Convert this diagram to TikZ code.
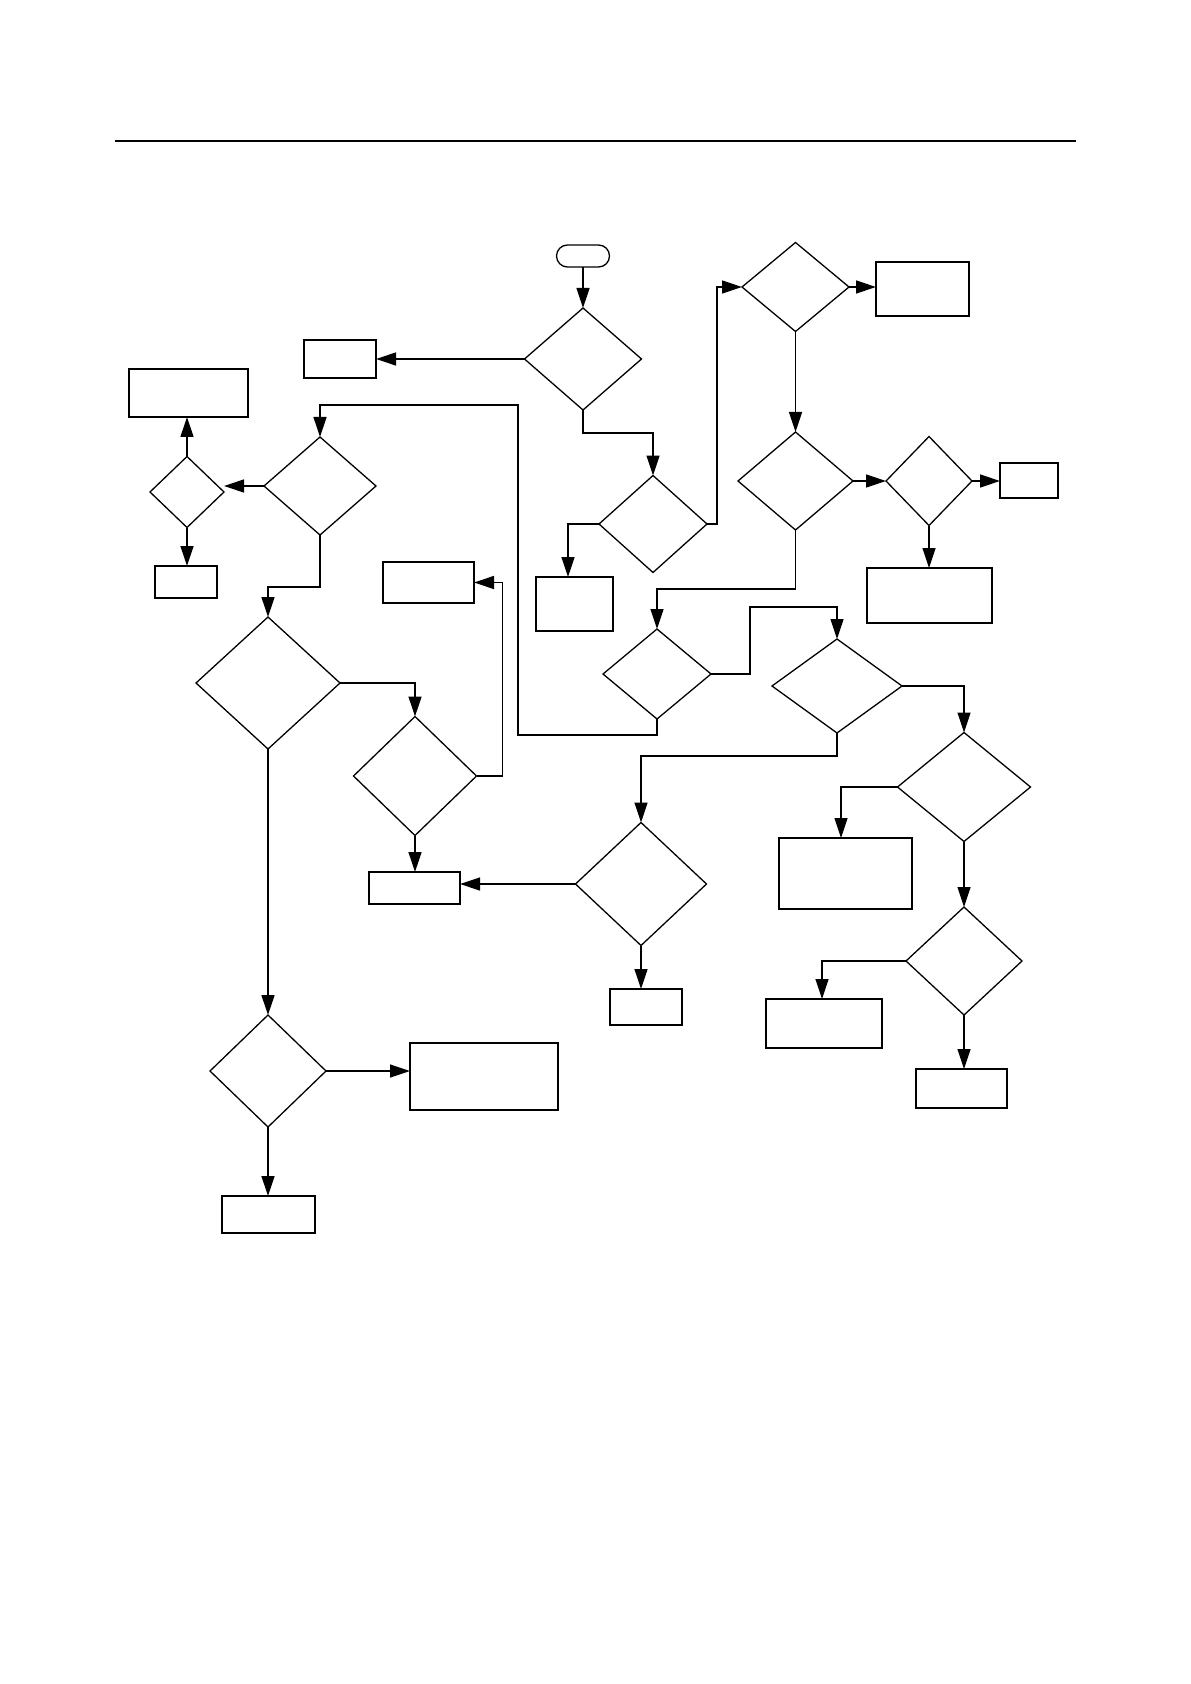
\documentclass[tikz,border=0pt]{standalone}
\usetikzlibrary{arrows.meta,shapes.geometric}
\tikzset{dec/.style 2 args={draw,diamond,inner sep=0pt,outer sep=0pt,
 minimum width=#1pt,minimum height=#2pt},
 blk/.style 2 args={draw,rectangle,inner sep=0pt,outer sep=0pt,
 minimum width=#1pt,minimum height=#2pt},
 term/.style={draw,rectangle,rounded corners=5.5pt,inner sep=0pt,outer sep=0pt,
 minimum width=26.5pt,minimum height=11pt},
 arr/.style={-{Triangle[length=10pt,width=6.5pt]}}}

\begin{document}
\begin{tikzpicture}[x=0.5pt,y=-0.5pt,line width=0.65pt]
\useasboundingbox (0,0) rectangle (1190,1684);
\draw[line width=1.3pt] (115,141) -- (1076,141);
% decisions
\node[term] (start) at (583,256) {};
\node[dec={58.5}{51}] (d1) at (583,359) {};
\node[dec={54}{48.5}] (d2) at (653,524) {};
\node[dec={53.5}{44.5}] (d3) at (795.5,287) {};
\node[dec={57.5}{49}] (d4) at (795.5,481) {};
\node[dec={43}{44.5}] (d5) at (929,481) {};
\node[dec={54}{45}] (d6) at (657,674) {};
\node[dec={65}{47}] (d7) at (837,686) {};
\node[dec={37}{35.5}] (d8) at (187,492) {};
\node[dec={56}{49}] (d9) at (320,486) {};
\node[dec={72}{66}] (d10) at (268,683) {};
\node[dec={61.5}{59.5}] (d11) at (415,776) {};
\node[dec={65.5}{61.5}] (d12) at (641,884) {};
\node[dec={58}{56}] (d13) at (268,1071) {};
\node[dec={66.5}{54.5}] (d14) at (964,787) {};
\node[dec={58}{54}] (d15) at (964,961) {};
% boxes
\node[blk={36}{19}] (b1) at (340,359) {};
\node[blk={59.5}{24}] (b2) at (188.5,393) {};
\node[blk={31}{16}] (b3) at (186,582) {};
\node[blk={45.5}{20.5}] (b4) at (428.5,582.5) {};
\node[blk={38.5}{27}] (b5) at (574.5,604) {};
\node[blk={46.5}{27}] (b6) at (922.5,289) {};
\node[blk={29}{17.5}] (b7) at (1029,480.5) {};
\node[blk={62.5}{27.5}] (b8) at (929.5,595.5) {};
\node[blk={45.5}{16}] (b9) at (414.5,888) {};
\node[blk={36}{18}] (b10) at (646,1007) {};
\node[blk={66.5}{35.5}] (b11) at (845.5,873.5) {};
\node[blk={58}{24.5}] (b12) at (824,1023.5) {};
\node[blk={45.5}{19.5}] (b13) at (961.5,1088.5) {};
\node[blk={74}{33.5}] (b14) at (484,1076.5) {};
\node[blk={46.5}{18.5}] (b15) at (268.5,1214.5) {};
% connectors
\draw[arr] (start) -- (d1);
\draw[arr] (d1.west) -- (b1.east);
\draw[arr] (d1.south) -- ++(0,23) -| (d2.north);
\draw[arr] (d2.east) -- ++(10,0) |- (d3.west);
\draw[arr] (d2.west) -| ([xshift=-3.25pt]b5.north);
\draw[arr] (d3.east) -- (d3.east -| b6.west);
\draw[arr] (d3.south) -- (d4.north);
\draw[arr] (d4.east) -- (d5.west);
\draw[arr] (d5.east) -- (d5.east -| b7.west);
\draw[arr] (d5.south) -- (d5.south |- b8.north);
\draw[arr] (d4.south) -- ++(0,59) -| (d6.north);
\draw[arr] (d6.east) -- ++(39,0) |- ([yshift=16pt]d7.north) -- (d7.north);
\draw[arr] (d6.south) -- ++(0,16) -| ++(-139,-330) -| (d9.north);
\draw[arr] (d7.south) -- ++(0,23) -| (d12.north);
\draw[arr] (d7.east) -| (d14.north);
\draw[arr] (d14.west) -| ([xshift=-2.25pt]b11.north);
\draw[arr] (d14.south) -- (d15.north);
\draw[arr] (d15.west) -| ([xshift=-1pt]b12.north);
\draw[arr] (d15.south) -- (d15.south |- b13.north);
\draw[arr] (d12.west) -- (d12.west -| b9.east);
\draw[arr] (d12.south) -- (d12.south |- b10.north);
\draw[arr] (d11.south) -- (d11.south |- b9.north);
\draw[arr] (d11.east) -- ++(26,0) |- (b4.east);
\draw[arr] (d10.east) -| (d11.north);
\draw[arr] (d10.south) -- (d13.north);
\draw[arr] (d13.east) -- (d13.east -| b14.west);
\draw[arr] (d13.south) -- (d13.south |- b15.north);
\draw[arr] (d9.south) -- ++(0,52) -| (d10.north);
\draw[arr] (d9.west) -- (d9.west -| d8.east);
\draw[arr] (d8.north) -- (d8.north |- b2.south);
\draw[arr] (d8.south) -- (d8.south |- b3.north);
\end{tikzpicture}
\end{document}
